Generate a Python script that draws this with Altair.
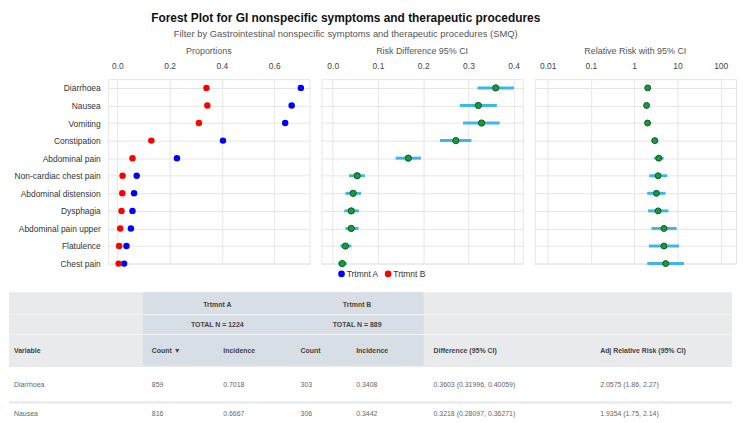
import altair as alt
import pandas as pd

FONT = "'Liberation Sans', Arial, sans-serif"

# ---------------- data ----------------
variables = ["Diarrhoea", "Nausea", "Vomiting", "Constipation", "Abdominal pain",
             "Non-cardiac chest pain", "Abdominal distension", "Dysphagia",
             "Abdominal pain upper", "Flatulence", "Chest pain"]
groups = ["Trtmnt A", "Trtmnt B"]
prop_a = [0.7018, 0.6667, 0.642, 0.404, 0.228, 0.074, 0.064, 0.058, 0.052, 0.035, 0.026]
prop_b = [0.3408, 0.3442, 0.312, 0.130, 0.058, 0.020, 0.019, 0.016, 0.011, 0.007, 0.005]
rd = [0.3603, 0.3218, 0.329, 0.272, 0.167, 0.054, 0.045, 0.041, 0.041, 0.028, 0.021]
rd_lo = [0.31996, 0.28097, 0.288, 0.237, 0.139, 0.036, 0.028, 0.0255, 0.028, 0.017, 0.012]
rd_hi = [0.40059, 0.36271, 0.369, 0.3065, 0.195, 0.071, 0.0625, 0.058, 0.057, 0.041, 0.031]
rr = [2.0575, 1.9354, 2.04, 3.0, 3.7, 3.57, 3.27, 3.57, 4.88, 4.88, 5.34]
rr_lo = [1.86, 1.75, 1.80, 2.5, 2.89, 2.23, 2.0, 2.08, 2.51, 2.19, 2.0]
rr_hi = [2.27, 2.14, 2.30, 3.57, 4.8, 5.8, 5.3, 6.2, 9.6, 10.9, 14.1]

prop_ticks = [0.0, 0.2, 0.4, 0.6]
rd_ticks = [0.0, 0.1, 0.2, 0.3, 0.4]
rr_ticks = [0.01, 0.1, 1, 10, 100]

title_text = "Forest Plot for GI nonspecific symptoms and therapeutic procedures"
subtitle_text = "Filter by Gastrointestinal nonspecific symptoms and therapeutic procedures (SMQ)"
panel_titles = ["Proportions", "Risk Difference 95% CI", "Relative Risk with 95% CI"]

# table
hdr_groups = ["Trtmnt A", "Trtmnt B"]
hdr_totals = ["TOTAL N = 1224", "TOTAL N = 889"]
hdr_cols = ["Variable", "Count \u25BC", "Incidence", "Count", "Incidence",
            "Difference (95% CI)", "Adj Relative Risk (95% CI)"]
tbl_var = ["Diarrhoea", "Nausea"]
tbl_count_a = ["859", "816"]
tbl_inc_a = ["0.7018", "0.6667"]
tbl_count_b = ["303", "306"]
tbl_inc_b = ["0.3408", "0.3442"]
tbl_diff = ["0.3603 (0.31996, 0.40059)", "0.3218 (0.28097, 0.36271)"]
tbl_rr = ["2.0575 (1.86, 2.27)", "1.9354 (1.75, 2.14)"]

# ---------------- frames ----------------
prop_df = pd.DataFrame({
    "variable": variables * 2,
    "group": [groups[0]] * len(variables) + [groups[1]] * len(variables),
    "value": prop_a + prop_b,
})
rd_df = pd.DataFrame({"variable": variables, "est": rd, "lo": rd_lo, "hi": rd_hi})
rr_df = pd.DataFrame({"variable": variables, "est": rr, "lo": rr_lo, "hi": rr_hi})

GRID = "#e6e6e6"
CI_COL = "#3db7ea"
PT_FILL = "#1a9a3c"
PT_STROKE = "#0c5a20"
PW = 203
PH = 186

yscale = alt.Scale(type="point", domain=variables, padding=0.25, align=1)
y_left = alt.Y("variable:N", sort=variables, scale=yscale,
               axis=alt.Axis(title=None, labelFontSize=8.5, labelColor="#333", labelPadding=8,
                             ticks=False, domain=False, grid=True, gridColor=GRID,
                             minExtent=100, maxExtent=100, labelFont=FONT))
y_none = alt.Y("variable:N", sort=variables, scale=yscale,
               axis=alt.Axis(title=None, labels=False, ticks=False, domain=False,
                             grid=True, gridColor=GRID))


def xaxis(values, fmt):
    return alt.Axis(orient="top", title=None, values=values, format=fmt, ticks=False,
                    domain=False, labelFontSize=8.5, labelColor="#444", labelPadding=9,
                    grid=True, gridColor=GRID, labelFont=FONT)


def ptitle(t):
    return alt.TitleParams(t, fontSize=9, color="#555", fontWeight="normal", font=FONT, offset=5)


p1 = alt.Chart(prop_df).mark_circle(size=42, opacity=1).encode(
    x=alt.X("value:Q", scale=alt.Scale(domain=[-0.035, 0.735], nice=False, zero=False),
            axis=xaxis(prop_ticks, ".1f")),
    y=y_left,
    color=alt.Color("group:N", scale=alt.Scale(domain=groups, range=["#0000ff", "#ff0000"]),
                    legend=alt.Legend(orient="none", legendX=231, legendY=192, direction="horizontal",
                                      title=None, labelFontSize=8.5, labelColor="#333", labelFont=FONT,
                                      symbolType="circle", symbolSize=45, symbolStrokeWidth=0,
                                      columnPadding=5, labelOffset=1)),
).properties(width=PW, height=PH, title=ptitle(panel_titles[0]))

rd_x = alt.Scale(domain=[-0.025, 0.42], nice=False, zero=False)
p2_ci = alt.Chart(rd_df).mark_rule(color=CI_COL, strokeWidth=3).encode(
    x=alt.X("lo:Q", scale=rd_x, axis=xaxis(rd_ticks, ".1f")), x2="hi:Q", y=y_none)
p2_pt = alt.Chart(rd_df).mark_circle(size=40, opacity=1, color=PT_FILL, stroke=PT_STROKE,
                                      strokeWidth=1).encode(x="est:Q", y=y_none)
p2 = alt.layer(p2_ci, p2_pt).properties(width=PW, height=PH, title=ptitle(panel_titles[1]))

rr_x = alt.Scale(type="log", domain=[0.005, 226], nice=False)
p3_ci = alt.Chart(rr_df).mark_rule(color=CI_COL, strokeWidth=3).encode(
    x=alt.X("lo:Q", scale=rr_x, axis=xaxis(rr_ticks, "~g")), x2="hi:Q", y=y_none)
p3_pt = alt.Chart(rr_df).mark_circle(size=36, opacity=1, color=PT_FILL, stroke=PT_STROKE,
                                      strokeWidth=1).encode(x="est:Q", y=y_none)
p3 = alt.layer(p3_ci, p3_pt).properties(width=PW, height=PH, title=ptitle(panel_titles[2]))

top = alt.hconcat(p1, p2, p3, spacing=10)

# ---------------- table ----------------
one = pd.DataFrame({"k": [0]})
TL, TR = -100, 629


def rect(x, x2, y, y2, color):
    return alt.Chart(one).mark_rect(color=color).encode(
        x=alt.value(x), x2=alt.value(x2), y=alt.value(y), y2=alt.value(y2))


def label(text, x, y, align="left", bold=True, color="#444"):
    return alt.Chart(pd.DataFrame({"t": [text]})).mark_text(
        align=align, baseline="middle", fontSize=7, font=FONT,
        fontWeight="bold" if bold else "normal", color=color).encode(
        x=alt.value(x), y=alt.value(y), text="t:N")


layers = [
    rect(TL, TR, 7, 81, "#e8eaec"),
    rect(35, 318, 7, 81, "#d8dee6"),
    rect(TL, TR, 29, 30, "#f3f4f5"),
    rect(TL, TR, 49, 50, "#f3f4f5"),
    rect(TL, TR, 81, 82, "#dfe2e5"),
    rect(TL, TR, 117, 119, "#e6e8ea"),
    label(hdr_groups[0], 110, 20, "center"),
    label(hdr_groups[1], 251, 20, "center"),
    label(hdr_totals[0], 110, 40, "center"),
    label(hdr_totals[1], 251, 40, "center"),
]
col_x = [-95, 44, 116, 194, 250, 328, 496]
for cx, h in zip(col_x, hdr_cols):
    layers.append(label(h, cx, 66))

tbl_df = pd.DataFrame({"row": [0, 1], "var": tbl_var, "ca": tbl_count_a, "ia": tbl_inc_a,
                       "cb": tbl_count_b, "ib": tbl_inc_b, "diff": tbl_diff, "rr": tbl_rr})
row_y = alt.Y("row:Q", scale=alt.Scale(domain=[0, 1], range=[100, 130]), axis=None)
for cx, f in zip(col_x, ["var", "ca", "ia", "cb", "ib", "diff", "rr"]):
    layers.append(alt.Chart(tbl_df).mark_text(align="left", baseline="middle", fontSize=7,
                                              font=FONT, color="#666").encode(
        x=alt.value(cx), y=row_y, text=f"{f}:N"))

table = alt.layer(*layers).properties(width=TR, height=134,
                                      view=alt.ViewBackground(stroke="transparent"))

chart = alt.vconcat(top, table, spacing=15).properties(
    title=alt.TitleParams(title_text, subtitle=subtitle_text, anchor="middle", font=FONT,
                          fontSize=12, fontWeight="bold", color="#111",
                          subtitleFont=FONT, subtitleFontSize=9.5, subtitleColor="#555",
                          subtitlePadding=5, offset=7, dx=-27),
    padding={"left": 0, "top": 2, "right": 0, "bottom": 0},
).configure_view(stroke=GRID)

chart.save("out.html", embed_options={"renderer": "svg", "actions": False})
